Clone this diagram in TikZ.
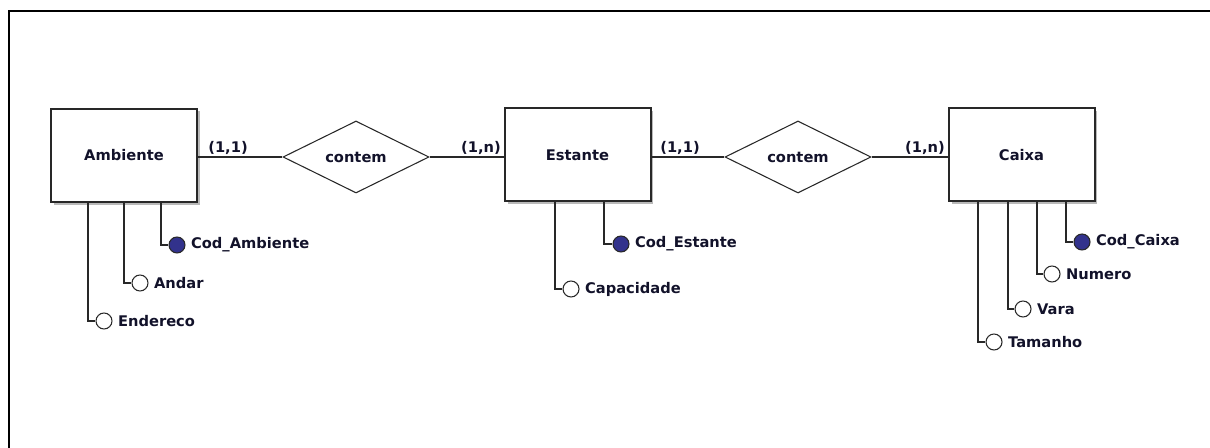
\documentclass[tikz,border=0pt]{standalone}
\usepackage{fontspec}
\setmainfont{DejaVu Sans}
\usetikzlibrary{shapes.geometric}
\definecolor{txt}{RGB}{18,18,42}
\definecolor{keyfill}{RGB}{50,50,140}
\definecolor{ln}{RGB}{40,40,40}
\begin{document}
\begin{tikzpicture}[x=0.75pt,y=-0.75pt,
  every node/.style={font=\fontsize{11}{13}\selectfont\bfseries, text=txt},
  entity/.style={draw=ln, line width=1.5pt, fill=white, minimum width=109.5pt, minimum height=69.75pt, inner sep=0pt},
  rel/.style={draw=ln, line width=0.8pt, shape=diamond, minimum width=109.5pt, minimum height=54pt, inner sep=0pt, aspect=2},
  attr/.style={draw=ln, line width=0.8pt, circle, fill=white, minimum size=12pt, inner sep=0pt},
  keyattr/.style={attr, fill=keyfill},
  aname/.style={anchor=west, inner sep=0pt, xshift=4pt},
  card/.style={inner sep=0pt},
  conn/.style={draw=ln, line width=1pt}]
\useasboundingbox (0,0) rectangle (1210,448);
% frame
\draw[line width=2pt, black] (9,449) -- (9,11) -- (1211,11);
% shadows
\fill[gray!55] (54,111) rectangle (200,205);
\fill[gray!55] (508,111) rectangle (653,204);
\fill[gray!55] (952,111) rectangle (1097,204);
% entities
\node[entity] (amb) at (124,155.5) {Ambiente};
\node[entity] (est) at (577.5,155) {Estante};
\node[entity] (cai) at (1021.5,155) {Caixa};
% relationships
\node[rel] (r1) at (356,157) {contem};
\node[rel] (r2) at (798,157) {contem};
% connectors
\draw[conn] (amb.east |- r1.west) -- (r1.west);
\draw[conn] (r1.east) -- (est.west |- r1.east);
\draw[conn] (est.east |- r2.west) -- (r2.west);
\draw[conn] (r2.east) -- (cai.west |- r2.east);
% cardinalities
\node[card] (c1) at (228,148) {(1,1)};
\node[card] (c2) at (481,148) {(1,n)};
\node[card] (c3) at (680,148) {(1,1)};
\node[card] (c4) at (925,148) {(1,n)};
% Ambiente attributes
\node[keyattr] (a1) at (177,245) {};
\node[aname] (a1t) at (a1.east) {Cod\_Ambiente};
\node[attr] (a2) at (140,283) {};
\node[aname] (a2t) at (a2.east) {Andar};
\node[attr] (a3) at (104,321) {};
\node[aname] (a3t) at (a3.east) {Endereco};
\draw[conn] (amb.south -| 161,0) |- (a1.west);
\draw[conn] (amb.south -| 124,0) |- (a2.west);
\draw[conn] (amb.south -| 88,0) |- (a3.west);
% Estante attributes
\node[keyattr] (e1) at (621,244) {};
\node[aname] (e1t) at (e1.east) {Cod\_Estante};
\node[attr] (e2) at (571,289) {};
\node[aname] (e2t) at (e2.east) {Capacidade};
\draw[conn] (est.south -| 604,0) |- (e1.west);
\draw[conn] (est.south -| 555,0) |- (e2.west);
% Caixa attributes
\node[keyattr] (k1) at (1082,242) {};
\node[aname] (k1t) at (k1.east) {Cod\_Caixa};
\node[attr] (k2) at (1052,274) {};
\node[aname] (k2t) at (k2.east) {Numero};
\node[attr] (k3) at (1023,309) {};
\node[aname] (k3t) at (k3.east) {Vara};
\node[attr] (k4) at (994,342) {};
\node[aname] (k4t) at (k4.east) {Tamanho};
\draw[conn] (cai.south -| 1066,0) |- (k1.west);
\draw[conn] (cai.south -| 1037,0) |- (k2.west);
\draw[conn] (cai.south -| 1008,0) |- (k3.west);
\draw[conn] (cai.south -| 978,0) |- (k4.west);
\end{tikzpicture}
\end{document}
